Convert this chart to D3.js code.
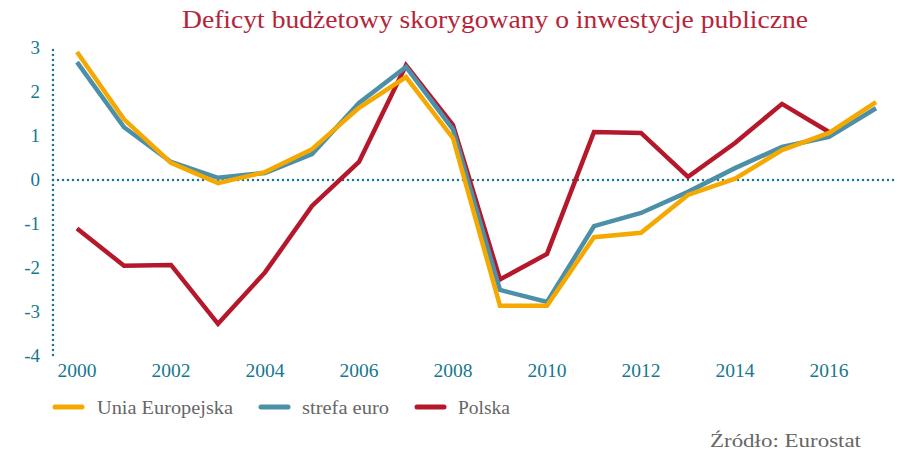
<!DOCTYPE html>
<html><head><meta charset="utf-8">
<script src="https://cdn.jsdelivr.net/npm/d3@7"></script>
<style>body{margin:0;background:#fff;}svg{display:block;}</style>
</head><body>
<svg id="c" width="901" height="452"></svg>
<script>
const years = d3.range(2000, 2018);
const yTicks = [3, 2, 1, 0, -1, -2, -3, -4];
const xTicks = [2000, 2002, 2004, 2006, 2008, 2010, 2012, 2014, 2016];
const ue = [2.91, 1.38, 0.39, -0.07, 0.18, 0.70, 1.64, 2.34, 0.95, -2.86, -2.86, -1.30, -1.20, -0.34, 0.03, 0.68, 1.07, 1.77];
const euro = [2.68, 1.20, 0.41, 0.05, 0.16, 0.59, 1.75, 2.57, 1.15, -2.50, -2.77, -1.05, -0.75, -0.27, 0.27, 0.75, 0.98, 1.63];
const polska = [-1.10, -1.95, -1.93, -3.27, -2.10, -0.59, 0.41, 2.61, 1.25, -2.26, -1.68, 1.09, 1.07, 0.07, 0.84, 1.73, 1.09];
const seriesNames = ["Unia Europejska", "strefa euro", "Polska"];
const colors = ["#f5a800", "#4c8fa8", "#b5182b"];

const svg = d3.select("#c");
const x = d3.scaleLinear().domain([2000, 2017]).range([77, 876]);
const y = d3.scaleLinear().domain([-4, 3]).range([356, 48]);
const teal = "#16778f";
const serif = "'Liberation Serif','DejaVu Serif',serif";

svg.append("text").attr("x", 182).attr("y", 28)
  .attr("font-family", serif).attr("font-size", 26).attr("fill", "#b5253a")
  .attr("textLength", 626).attr("lengthAdjust", "spacingAndGlyphs")
  .text("Deficyt budżetowy skorygowany o inwestycje publiczne");

// y axis dotted
svg.append("line").attr("x1", 53).attr("x2", 53).attr("y1", y(3)+2).attr("y2", y(-4))
  .attr("stroke", teal).attr("stroke-width", 2.5).attr("stroke-dasharray", "0 5").attr("stroke-linecap", "round");
svg.append("line").attr("x1", 53).attr("x2", 898).attr("y1", y(0)).attr("y2", y(0))
  .attr("stroke", teal).attr("stroke-width", 2.5).attr("stroke-dasharray", "0 5").attr("stroke-linecap", "round");

svg.append("g").selectAll("text").data(yTicks).join("text")
  .attr("x", 40).attr("y", d => y(d) + 6).attr("text-anchor", "end")
  .attr("font-family", serif).attr("font-size", 19).attr("fill", teal)
  .text(d => d);
svg.append("g").selectAll("text").data(xTicks).join("text")
  .attr("x", d => x(d)).attr("y", 377).attr("text-anchor", "middle")
  .attr("font-family", serif).attr("font-size", 19.5).attr("fill", teal)
  .text(d => d);

const line = d3.line().x((d, i) => x(years[i])).y(d => y(d));
[ue, euro, polska].slice().reverse().forEach((s, k) => {
  const idx = 2 - k;
  svg.append("path").attr("d", line(s)).attr("fill", "none")
    .attr("stroke", colors[idx]).attr("stroke-width", 4.5).attr("stroke-linejoin", "miter");
});

// legend
const legX = [55, 261, 417];
const legTextX = [97, 302, 458];
const legW = [136, 87, 52];
seriesNames.forEach((n, i) => {
  svg.append("line").attr("x1", legX[i]).attr("x2", legX[i] + 27).attr("y1", 407).attr("y2", 407)
    .attr("stroke", colors[i]).attr("stroke-width", 5).attr("stroke-linecap", "round");
  svg.append("text").attr("x", legTextX[i]).attr("y", 414)
    .attr("font-family", serif).attr("font-size", 19).attr("fill", "#666")
    .attr("textLength", legW[i]).attr("lengthAdjust", "spacingAndGlyphs")
    .text(n);
});
svg.append("text").attr("x", 710).attr("y", 447)
  .attr("font-family", serif).attr("font-size", 18).attr("fill", "#666")
  .attr("textLength", 151).attr("lengthAdjust", "spacingAndGlyphs")
  .text("Źródło: Eurostat");
</script>
</body></html>
